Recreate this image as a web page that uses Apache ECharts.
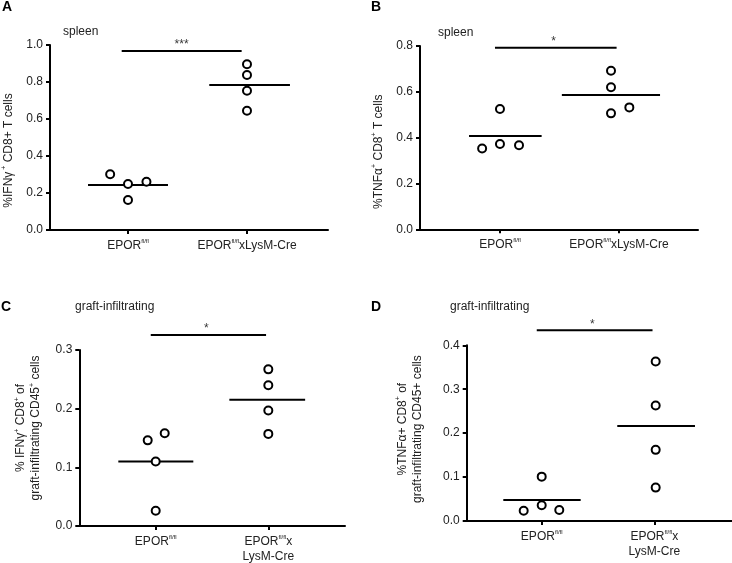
<!DOCTYPE html>
<html><head><meta charset="utf-8">
<script src="https://cdn.jsdelivr.net/npm/echarts@6/dist/echarts.min.js"></script>
<style>html,body{margin:0;padding:0;background:#fff}#c{width:732px;height:563px}</style>
</head><body><div id="c"></div>
<script>
// ---------- DATA ----------
const groupPositions = [1, 2];
const categoryRichSpleen = ['{b|EPOR}{s|fl/fl}', '{b|EPOR}{s|fl/fl}{b|xLysM-Cre}'];
const categoryRichGraft = ['{b|EPOR}{s|fl/fl}', '{b|EPOR}{s|fl/fl}{b|x}\n{b|LysM-Cre}'];

const spleenIFNg_flfl = [0.301, 0.249, 0.261, 0.162];
const spleenIFNg_cre  = [0.896, 0.838, 0.753, 0.645];
const spleenIFNg_mean = [0.243, 0.784];

const spleenTNFa_flfl = [0.353, 0.372, 0.367, 0.525];
const spleenTNFa_cre  = [0.506, 0.532, 0.620, 0.692];
const spleenTNFa_mean = [0.407, 0.586];

const graftIFNg_flfl = [0.146, 0.158, 0.110, 0.026];
const graftIFNg_cre  = [0.267, 0.240, 0.197, 0.157];
const graftIFNg_mean = [0.110, 0.215];

const graftTNFa_flfl = [0.0235, 0.036, 0.025, 0.101];
const graftTNFa_cre  = [0.363, 0.263, 0.162, 0.076];
const graftTNFa_mean = [0.048, 0.216];

const significanceText = ['***', '*', '*', '*'];
const significanceLevel = [0.968, 0.792, 0.3256, 0.434];

const yMax = [1.0, 0.8, 0.3, 0.4];
const yStep = [0.2, 0.2, 0.1, 0.1];

const panelLetters = ['A', 'B', 'C', 'D'];
const panelSubtitles = ['spleen', 'spleen', 'graft-infiltrating', 'graft-infiltrating'];
const yNames = [
  '{t|%IFNγ}{s| +}{t| CD8+ T cells}',
  '{t|%TNFα}{s|+}{t| CD8}{s|+}{t| T cells}',
  '{t|% IFNγ}{s|+}{t| CD8}{s|+}{t| of}\n{t|graft-infiltrating CD45}{s|+}{t| cells}',
  '{t|%TNFα+ CD8}{s|+}{t| of}\n{t|graft-infiltrating CD45+ cells}'
];

// ---------- LAYOUT (positions / styles) ----------
const panels = [
  {values: [spleenIFNg_flfl, spleenIFNg_cre], means: spleenIFNg_mean, cats: categoryRichSpleen,
   grid: {left: 50, top: 45, width: 278, height: 185}, xmin: 0.3445, xmax: 2.6807,
   jitter: [[-0.15, 0, 0.155, 0], [0, 0, 0, 0]], meanExt: [[-0.336, 0.336], [-0.317, 0.361]],
   sig: [0.947, 1.955], nameGap: 34, namePad: [0, 26, 0, 0],
   letter: [2, 8], sub: [63, 33]},
  {values: [spleenTNFa_flfl, spleenTNFa_cre], means: spleenTNFa_mean, cats: categoryRichSpleen,
   grid: {left: 420, top: 46, width: 278, height: 183.3}, xmin: 0.328, xmax: 2.664,
   jitter: [[-0.15, 0, 0.16, 0], [-0.067, 0.087, -0.067, -0.067]], meanExt: [[-0.26, 0.35], [-0.48, 0.345]],
   sig: [0.958, 1.98], nameGap: 34, namePad: [0, 28, 0, 0],
   letter: [371, 8], sub: [438, 34]},
  {values: [graftIFNg_flfl, graftIFNg_cre], means: graftIFNg_mean, cats: categoryRichGraft,
   grid: {left: 79.3, top: 350, width: 265.7, height: 176}, xmin: 0.3215, xmax: 2.681,
   jitter: [[-0.071, 0.08, 0, 0], [0, 0, 0, 0]], meanExt: [[-0.332, 0.334], [-0.346, 0.327]],
   sig: [0.956, 1.98], nameGap: 36, namePad: [0, 0, 0, 20],
   letter: [1, 308], sub: [75, 308]},
  {values: [graftTNFa_flfl, graftTNFa_cre], means: graftTNFa_mean, cats: categoryRichGraft,
   grid: {left: 466.7, top: 345.3, width: 265, height: 175.7}, xmin: 0.334, xmax: 2.687,
   jitter: [[-0.16, 0, 0.156, 0], [0.012, 0.012, 0.012, 0.012]], meanExt: [[-0.341, 0.346], [-0.329, 0.361]],
   sig: [0.956, 1.984], nameGap: 42, namePad: [0, 0, 0, 8],
   letter: [371, 308], sub: [450, 308]}
];
const starX = 1.45;
const FONT = '"Liberation Sans", Arial, sans-serif';

const grids = [], xAxes = [], yAxes = [], series = [], graphics = [];
panels.forEach((p, i) => {
  grids.push(Object.assign({containLabel: false}, p.grid));
  xAxes.push({
    type: 'value', gridIndex: i, min: p.xmin, max: p.xmax,
    axisLine: {show: true, onZero: false, lineStyle: {color: '#000', width: 2}},
    axisTick: {show: true, customValues: groupPositions, length: 4, lineStyle: {color: '#000', width: 2}},
    splitLine: {show: false},
    axisLabel: {
      show: true, customValues: groupPositions, margin: 8, color: '#222', fontFamily: FONT,
      formatter: v => p.cats[groupPositions.indexOf(Math.round(v))] || '',
      rich: {b: {fontSize: 12, fontFamily: FONT, color: '#222', lineHeight: 15},
             s: {fontSize: 6, fontFamily: FONT, color: '#222', verticalAlign: 'top', lineHeight: 15}}
    }
  });
  yAxes.push({
    type: 'value', gridIndex: i, min: 0, max: yMax[i], interval: yStep[i],
    axisLine: {show: true, lineStyle: {color: '#000', width: 2}},
    axisTick: {show: true, length: 4, lineStyle: {color: '#000', width: 2}},
    splitLine: {show: false},
    axisLabel: {margin: 7, color: '#222', fontSize: 12, fontFamily: FONT, formatter: v => v.toFixed(1)},
    name: yNames[i], nameLocation: 'middle', nameRotate: 90, nameGap: p.nameGap,
    nameTextStyle: {
      padding: p.namePad, fontFamily: FONT, color: '#222', align: 'center',
      rich: {t: {fontSize: 12, fontFamily: FONT, color: '#222', lineHeight: 15},
             s: {fontSize: 7, fontFamily: FONT, color: '#222', verticalAlign: 'top', lineHeight: 15}}
    }
  });
  // points
  const pts = [];
  p.values.forEach((arr, g) => arr.forEach((v, k) => pts.push([groupPositions[g] + p.jitter[g][k], v])));
  series.push({
    type: 'scatter', xAxisIndex: i, yAxisIndex: i, data: pts, symbol: 'circle', symbolSize: 8,
    itemStyle: {color: '#fff', borderColor: '#000', borderWidth: 2, opacity: 1}, clip: false, z: 5
  });
  // mean lines
  p.means.forEach((m, g) => {
    series.push({
      type: 'line', xAxisIndex: i, yAxisIndex: i, symbol: 'none', clip: false,
      data: [[groupPositions[g] + p.meanExt[g][0], m], [groupPositions[g] + p.meanExt[g][1], m]],
      lineStyle: {color: '#000', width: 2}, z: 4
    });
  });
  // significance bar
  series.push({
    type: 'line', xAxisIndex: i, yAxisIndex: i, symbol: 'none', clip: false,
    data: [[p.sig[0], significanceLevel[i]], [p.sig[1], significanceLevel[i]]],
    lineStyle: {color: '#000', width: 2}
  });
  series.push({
    type: 'scatter', xAxisIndex: i, yAxisIndex: i, symbolSize: 0, clip: false,
    data: [[starX, significanceLevel[i]]],
    label: {show: true, position: 'top', distance: 0, formatter: significanceText[i],
            fontSize: 12, fontFamily: FONT, color: '#000'}
  });
  graphics.push({type: 'text', left: p.letter[0], top: p.letter[1] - 8,
    style: {text: panelLetters[i], font: 'bold 14px ' + FONT, fill: '#000'}});
  graphics.push({type: 'text', left: p.sub[0], top: p.sub[1] - 7,
    style: {text: panelSubtitles[i], font: '12px ' + FONT, fill: '#222'}});
});

const chart = echarts.init(document.getElementById('c'));
chart.setOption({
  animation: false, backgroundColor: '#fff',
  grid: grids, xAxis: xAxes, yAxis: yAxes, series: series, graphic: graphics
});
</script></body></html>
